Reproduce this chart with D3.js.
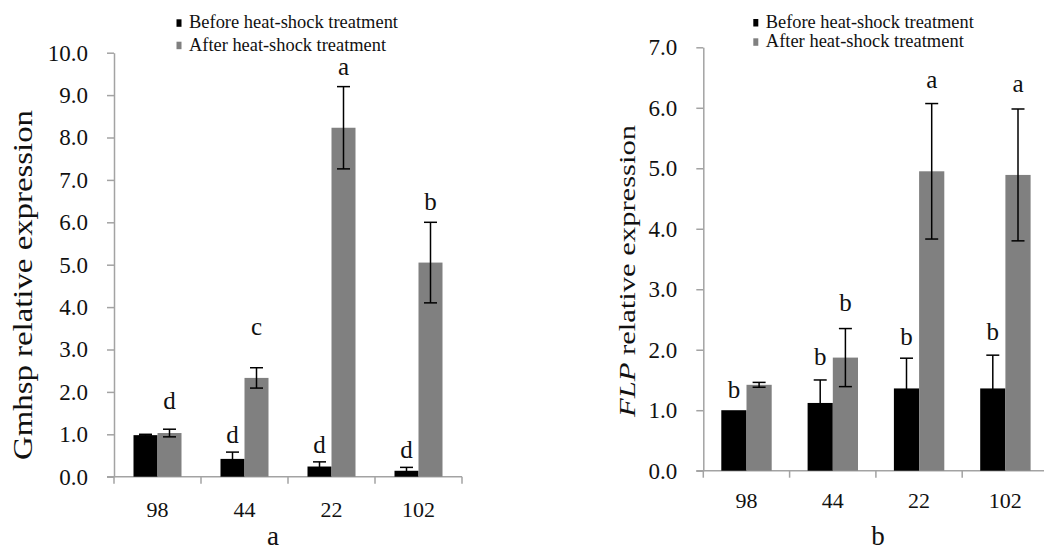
<!DOCTYPE html>
<html>
<head>
<meta charset="utf-8">
<script src="https://cdn.jsdelivr.net/npm/d3@7"></script>
<style>
  html, body { margin: 0; padding: 0; background: #fff; }
  svg { display: block; }
  svg text { font-family: "Liberation Serif", "Times New Roman", serif !important; fill: #111; }
</style>
</head>
<body>
<svg id="chart" width="1044" height="551"></svg>
<script>
// ---------- data ----------
const categories = ["98", "44", "22", "102"];
const seriesNames = ["Before heat-shock treatment", "After heat-shock treatment"];

// panel a : Gmhsp
const gmhspBefore    = [0.98, 0.42, 0.24, 0.14];
const gmhspBeforeErr = [0.02, 0.16, 0.11, 0.08];
const gmhspAfter     = [1.03, 2.33, 8.23, 5.05];
const gmhspAfterErr  = [0.09, 0.24, 0.97, 0.95];
const gmhspLettersBefore = ["", "d", "d", "d"];
const gmhspLettersAfter  = ["d", "c", "a", "b"];
const gmhspLetterAtBefore = [0, 0.79, 0.56, 0.44];
const gmhspLetterAtAfter  = [1.60, 3.34, 9.47, 6.29];
const gmhspTicks = [0, 1, 2, 3, 4, 5, 6, 7, 8, 9, 10];

// panel b : FLP
const flpBefore    = [1.00, 1.12, 1.36, 1.36];
const flpBeforeErr = [0, 0.38, 0.50, 0.55];
const flpAfter     = [1.42, 1.87, 4.95, 4.89];
const flpAfterErr  = [0.04, 0.48, 1.12, 1.09];
const flpLettersBefore = ["b", "b", "b", "b"];
const flpLettersAfter  = ["", "b", "a", "a"];
const flpLetterAtBefore = [1.20, 1.75, 2.08, 2.16];
const flpLetterAtAfter  = [0, 2.64, 6.33, 6.26];
const flpTicks = [0, 1, 2, 3, 4, 5, 6, 7];

const seriesColors = ["#000000", "#808080"];
const axisColor = "#a3a3a3";

const svg = d3.select("#chart");

function drawPanel(cfg) {
  const g = svg.append("g");
  const y = d3.scaleLinear().domain([0, cfg.yMax]).range([cfg.y0, cfg.y1]);
  const x = d3.scaleBand().domain(categories).range([cfg.x0, cfg.x0 + cfg.step * categories.length]).padding(0);
  const xs = d3.scaleBand().domain([0, 1]).range(cfg.inner).padding(0);

  // y axis
  const yAxis = d3.axisLeft(y).tickValues(cfg.ticks).tickSize(7).tickSizeOuter(0).tickPadding(19)
    .tickFormat(d3.format(".1f"));
  const ya = g.append("g").attr("transform", `translate(${cfg.x0},0)`).call(yAxis);
  ya.attr("font-family", null).attr("font-size", null);
  ya.select(".domain").attr("stroke", axisColor).attr("stroke-width", 1.5);
  ya.selectAll(".tick line").attr("stroke", axisColor).attr("stroke-width", 1.5);
  ya.selectAll(".tick text").style("font-size", "23px").attr("fill", "#111");

  // x axis line + boundary ticks
  const xEnd = x.range()[1];
  g.append("line").attr("x1", cfg.x0 - 7).attr("x2", xEnd).attr("y1", y(0)).attr("y2", y(0))
    .attr("stroke", axisColor).attr("stroke-width", 1.5);
  const bounds = categories.map(c => x(c)).concat([xEnd]);
  g.selectAll(".xb").data(bounds).join("line")
    .attr("x1", d => d).attr("x2", d => d).attr("y1", y(0)).attr("y2", y(0) + 7)
    .attr("stroke", axisColor).attr("stroke-width", 1.5);
  g.selectAll(".xl").data(categories).join("text")
    .attr("x", d => x(d) + x.bandwidth() / 2).attr("y", cfg.catBaseline)
    .attr("text-anchor", "middle").style("font-size", "22px").text(d => d);

  // bars
  const series = [
    { vals: cfg.before, errs: cfg.beforeErr, letters: cfg.lettersBefore, at: cfg.letterAtBefore },
    { vals: cfg.after, errs: cfg.afterErr, letters: cfg.lettersAfter, at: cfg.letterAtAfter }
  ];
  series.forEach((s, si) => {
    const rows = categories.map((c, i) => ({ c, v: s.vals[i], e: s.errs[i], l: s.letters[i], at: s.at[i] }));
    const cx = d => x(d.c) + xs(si) + xs.bandwidth() / 2;
    g.selectAll(".bar" + si).data(rows).join("rect")
      .attr("x", d => x(d.c) + xs(si)).attr("width", xs.bandwidth())
      .attr("y", d => y(d.v)).attr("height", d => y(0) - y(d.v))
      .attr("fill", seriesColors[si]);
    const er = rows.filter(d => d.e > 0);
    const eg = g.selectAll(".err" + si).data(er).join("g");
    eg.append("line").attr("x1", cx).attr("x2", cx)
      .attr("y1", d => y(d.v + d.e)).attr("y2", d => y(Math.max(0, d.v - d.e)))
      .attr("stroke", "#000").attr("stroke-width", 1.5);
    eg.append("line").attr("x1", d => cx(d) - 6.5).attr("x2", d => cx(d) + 6.5)
      .attr("y1", d => y(d.v + d.e)).attr("y2", d => y(d.v + d.e))
      .attr("stroke", "#000").attr("stroke-width", 1.5);
    eg.append("line").attr("x1", d => cx(d) - 6.5).attr("x2", d => cx(d) + 6.5)
      .attr("y1", d => y(Math.max(0, d.v - d.e))).attr("y2", d => y(Math.max(0, d.v - d.e)))
      .attr("stroke", "#000").attr("stroke-width", 1.5);
    g.selectAll(".let" + si).data(rows.filter(d => d.l)).join("text")
      .attr("x", cx).attr("y", d => y(d.at))
      .attr("text-anchor", "middle").style("font-size", "25px").text(d => d.l);
  });

  // legend
  seriesNames.forEach((name, i) => {
    g.append("rect").attr("x", cfg.legX).attr("y", cfg.legY[i] - 9).attr("width", 5).attr("height", 7.5)
      .attr("fill", seriesColors[i]);
    g.append("text").attr("x", cfg.legX + 12.5).attr("y", cfg.legY[i])
      .style("font-size", "18px").attr("textLength", cfg.legLen[i]).attr("lengthAdjust", "spacingAndGlyphs")
      .text(name);
  });

  // y title
  const t = g.append("text")
    .attr("transform", `translate(${cfg.titleX},${cfg.titleY}) rotate(-90)`)
    .attr("text-anchor", "middle").style("font-size", cfg.titleSize + "px")
    .attr("textLength", cfg.titleLen).attr("lengthAdjust", "spacingAndGlyphs");
  cfg.title.forEach(p => t.append("tspan").style("font-style", p.italic ? "italic" : "normal").text(p.text));

  // panel label
  g.append("text").attr("x", cfg.panelX).attr("y", 545).attr("text-anchor", "middle")
    .style("font-size", "27px").text(cfg.panel);
}

drawPanel({
  yMax: 10, y0: 476.7, y1: 52.7, x0: 114, step: 87, inner: [19.5, 67.5],
  ticks: gmhspTicks,
  before: gmhspBefore, beforeErr: gmhspBeforeErr, after: gmhspAfter, afterErr: gmhspAfterErr,
  lettersBefore: gmhspLettersBefore, lettersAfter: gmhspLettersAfter,
  letterAtBefore: gmhspLetterAtBefore, letterAtAfter: gmhspLetterAtAfter,
  catBaseline: 516.5, legX: 176.5, legY: [28.3, 50.7], legLen: [209, 197],
  title: [{ text: "Gmhsp relative expression" }], titleX: 32, titleY: 285, titleSize: 27, titleLen: 350,
  panelX: 273, panel: "a"
});

drawPanel({
  yMax: 7, y0: 470.7, y1: 47.3, x0: 703.3, step: 86.3, inner: [18, 68.4],
  ticks: flpTicks,
  before: flpBefore, beforeErr: flpBeforeErr, after: flpAfter, afterErr: flpAfterErr,
  lettersBefore: flpLettersBefore, lettersAfter: flpLettersAfter,
  letterAtBefore: flpLetterAtBefore, letterAtAfter: flpLetterAtAfter,
  catBaseline: 508, legX: 753.3, legY: [28, 47.3], legLen: [208, 198],
  title: [{ text: "FLP", italic: true }, { text: " relative expression" }], titleX: 635, titleY: 271, titleSize: 24, titleLen: 292,
  panelX: 878, panel: "b"
});
</script>
</body>
</html>
